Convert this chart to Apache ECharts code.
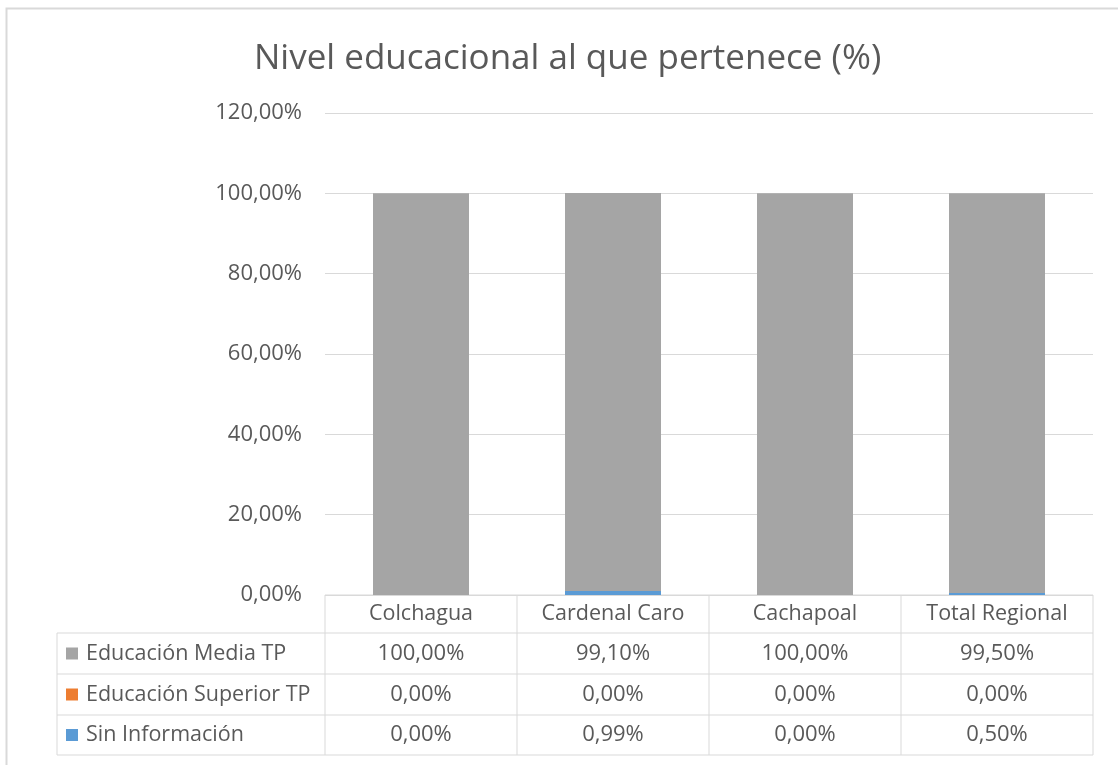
<!DOCTYPE html>
<html>
<head>
<meta charset="utf-8">
<script src="https://cdn.jsdelivr.net/npm/echarts@6/dist/echarts.min.js"></script>
<style>
  html, body { margin: 0; padding: 0; background: #fff; }
  #chart { width: 1118px; height: 765px; }
</style>
</head>
<body>
<div id="chart"></div>
<script>
// datos
var categories = ['Colchagua', 'Cardenal Caro', 'Cachapoal', 'Total Regional']
var mediaTP = [100.00, 99.10, 100.00, 99.50]
var superiorTP = [0.00, 0.00, 0.00, 0.00]
var sinInfo = [0.00, 0.99, 0.00, 0.50]
var seriesNames = ['Educación Media TP', 'Educación Superior TP', 'Sin Información']
var seriesColors = ['#a5a5a5', '#ed7d31', '#5b9bd5']

var txt = '#595959'
var line = '#d9d9d9'
var font = 'Open Sans'
var wordFont = '21.5px "' + font + '"'
var numFont = '22px "' + font + '"'

function pct(v) {
  return v.toFixed(2).replace('.', ',') + '%'
}

var gridL = 325
var gridR = 1093
var gridT = 113
var axisY = 595

var chart = echarts.init(document.getElementById('chart'))

// tabla de datos bajo el eje
function buildTable() {
  var els = []
  var rows = [mediaTP, superiorTP, sinInfo]
  var rowY = [633, 674, 715, 755]
  var colW = (gridR - gridL) / categories.length
  var lineStyle = { stroke: line, lineWidth: 1 }

  // marco exterior
  els.push({ type: 'rect', shape: { x: 6.5, y: 8.5, width: 1200, height: 900 }, style: { fill: null, stroke: line, lineWidth: 2 }, silent: true })

  els.push({ type: 'line', shape: { x1: gridL, y1: axisY, x2: gridR, y2: axisY }, style: lineStyle })
  rowY.forEach(function(y) {
    els.push({ type: 'line', shape: { x1: 57, y1: y, x2: gridR, y2: y }, style: lineStyle })
  })
  els.push({ type: 'line', shape: { x1: 57, y1: rowY[0], x2: 57, y2: rowY[3] }, style: lineStyle })
  for (var i = 0; i <= categories.length; i++) {
    var x = gridL + i * colW
    els.push({ type: 'line', shape: { x1: x, y1: axisY, x2: x, y2: rowY[3] }, style: lineStyle })
  }
  categories.forEach(function(c, i) {
    els.push({ type: 'text', x: gridL + (i + 0.5) * colW, y: (axisY + rowY[0]) / 2, style: { text: c, fill: txt, font: wordFont, align: 'center', verticalAlign: 'middle' } })
  })
  rows.forEach(function(r, k) {
    var cy = (rowY[k] + rowY[k + 1]) / 2
    els.push({ type: 'rect', shape: { x: 66, y: cy - 6, width: 12, height: 12 }, style: { fill: seriesColors[k] } })
    els.push({ type: 'text', x: 86, y: cy, style: { text: seriesNames[k], fill: txt, font: wordFont, align: 'left', verticalAlign: 'middle' } })
    r.forEach(function(v, i) {
      els.push({ type: 'text', x: gridL + (i + 0.5) * colW, y: cy, style: { text: pct(v), fill: txt, font: numFont, align: 'center', verticalAlign: 'middle' } })
    })
  })
  return els
}

var option = {
  animation: false,
  title: {
    text: 'Nivel educacional al que pertenece (%)',
    left: 249,
    top: 37,
    textStyle: { color: txt, fontSize: 35, fontWeight: 'normal', fontFamily: font }
  },
  grid: { left: gridL, right: 1118 - gridR, top: gridT, bottom: 765 - axisY },
  xAxis: {
    type: 'category',
    data: categories,
    axisLine: { show: false },
    axisTick: { show: false },
    axisLabel: { show: false }
  },
  yAxis: {
    type: 'value',
    min: 0,
    max: 120,
    interval: 20,
    axisLine: { show: false },
    axisTick: { show: false },
    axisLabel: {
      color: txt,
      fontSize: 22,
      fontFamily: font,
      margin: 23,
      formatter: function(v) { return pct(v) }
    },
    splitLine: { lineStyle: { color: line, width: 1 } }
  },
  series: [
    { name: seriesNames[2], type: 'bar', stack: 'total', data: sinInfo, barWidth: '50%', itemStyle: { color: seriesColors[2] } },
    { name: seriesNames[1], type: 'bar', stack: 'total', data: superiorTP, barWidth: '50%', itemStyle: { color: seriesColors[1] } },
    { name: seriesNames[0], type: 'bar', stack: 'total', data: mediaTP, barWidth: '50%', itemStyle: { color: seriesColors[0] } }
  ],
  graphic: buildTable()
}

chart.setOption(option)
</script>
</body>
</html>
